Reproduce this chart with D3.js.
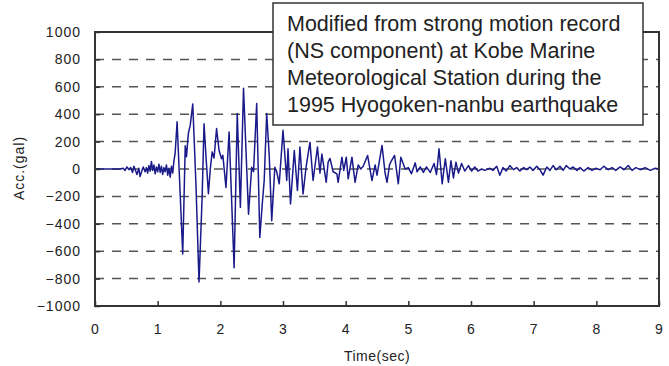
<!DOCTYPE html>
<html>
<head>
<meta charset="utf-8">
<script src="https://cdn.jsdelivr.net/npm/d3@7"></script>
<style>
  body { margin: 0; background: #fff; }
  svg { display: block; }
</style>
</head>
<body>
<div id="chart"></div>
<script>
// acceleration record (time in sec, acc in gal)
var timeSec = [0.00, 0.40, 0.45, 0.48, 0.51, 0.54, 0.57, 0.60, 0.62, 0.65, 0.67, 0.70, 0.72, 0.75, 0.77, 0.80,
  0.82, 0.84, 0.86, 0.88, 0.90, 0.92, 0.94, 0.96, 0.98, 1.00, 1.02, 1.04, 1.06, 1.08, 1.10, 1.12, 1.14, 1.16,
  1.18, 1.20, 1.22, 1.24, 1.26, 1.28, 1.31, 1.40, 1.44, 1.46, 1.49, 1.52, 1.56, 1.61, 1.66, 1.71, 1.74, 1.77,
  1.81, 1.84, 1.87, 1.90, 1.94, 1.98, 2.02, 2.04, 2.09, 2.14, 2.22, 2.27, 2.32, 2.37, 2.45, 2.50, 2.53, 2.58,
  2.63, 2.67, 2.70, 2.74, 2.78, 2.82, 2.87, 2.90, 2.94, 3.00, 3.06, 3.08, 3.12, 3.18, 3.23, 3.27, 3.32, 3.37,
  3.43, 3.48, 3.55, 3.59, 3.62, 3.69, 3.72, 3.75, 3.80, 3.86, 3.88, 3.94, 3.97, 4.01, 4.04, 4.10, 4.15, 4.20,
  4.24, 4.28, 4.35, 4.42, 4.47, 4.50, 4.58, 4.63, 4.66, 4.70, 4.73, 4.78, 4.84, 4.88, 4.95, 5.00, 5.05, 5.11,
  5.14, 5.19, 5.24, 5.29, 5.35, 5.41, 5.45, 5.49, 5.54, 5.59, 5.64, 5.68, 5.72, 5.76, 5.80, 5.85, 5.90, 5.96,
  6.01, 6.06, 6.11, 6.17, 6.22, 6.30, 6.35, 6.41, 6.46, 6.51, 6.56, 6.62, 6.68, 6.73, 6.78, 6.84, 6.89, 6.94,
  6.99, 7.05, 7.10, 7.15, 7.21, 7.26, 7.31, 7.36, 7.42, 7.47, 7.52, 7.58, 7.63, 7.69, 7.74, 7.80, 7.87, 7.93,
  7.99, 8.06, 8.12, 8.19, 8.25, 8.31, 8.38, 8.44, 8.51, 8.57, 8.63, 8.70, 8.78, 8.86, 8.94, 9.00];
var accGal = [0, 0, 5, -10, 15, -5, 10, -25, 20, -15, -40, 5, -55, -10, 15, -20,
  10, -30, 25, -15, 55, -10, 30, -35, 15, -20, 35, -25, 20, -40, 10, -20, 30, -45,
  5, -60, 20, -30, 60, 120, 345, -620, 170, 90, 260, 320, 475, -100, -825, -200, 330, 100,
  -180, 0, 125, 80, 295, 135, 75, 100, -135, 270, -720, 405, -280, 590, -330, 13, -20, 478,
  -500, -250, -85, 405, 100, -377, 13, -20, -108, 282, -84, 148, -255, 135, -157, 160, -182, 20,
  196, -84, 160, -30, 110, -97, 50, 77, -20, -35, -97, 86, -10, 86, -72, 86, -97, 30,
  0, 20, 99, -84, 30, -45, 172, -33, -97, 30, 60, 99, -108, 86, 0, 10, -35, 45,
  -20, 15, -25, 15, -25, 40, -40, 148, -108, 75, -97, 60, -65, 50, -30, 40, -15, 25,
  -15, 15, -15, 0, -10, 5, -10, 20, -45, 10, -15, 25, -5, 10, -15, 10, -5, 15,
  -10, 20, -5, -45, 15, -10, 25, -5, 20, -10, 25, 0, 15, -10, 10, -15, 10, -10,
  5, -5, 20, -5, 10, -10, 15, -5, 25, -10, 10, -5, 10, -10, 5, 0];
var xTicks = [0, 1, 2, 3, 4, 5, 6, 7, 8, 9];
var yTicks = [-1000, -800, -600, -400, -200, 0, 200, 400, 600, 800, 1000];
var noteLines = ["Modified from strong motion record", "(NS component) at Kobe Marine",
  "Meteorological Station during the", "1995 Hyogoken-nanbu earthquake"];

var W = 669, H = 366;
var Margin = {top: 32, right: 10, bottom: 60, left: 95};
var InnerWidth = W - Margin.left - Margin.right;   // 564
var InnerHeight = H - Margin.top - Margin.bottom;  // 274

var svg = d3.select("#chart").append("svg")
  .attr("width", W)
  .attr("height", H)
  .style("font-family", "'Liberation Sans', Arial, sans-serif");

var g = svg.append("g")
  .attr("transform", "translate(" + Margin.left + "," + Margin.top + ")");

var x = d3.scaleLinear().domain([0, 9]).range([0, InnerWidth]);
var y = d3.scaleLinear().domain([-1000, 1000]).range([InnerHeight, 0]);

// dashed grid lines
g.selectAll(".grid").data(yTicks.slice(1, -1)).enter().append("line")
  .attr("class", "grid")
  .attr("x1", 0).attr("x2", InnerWidth)
  .attr("y1", function(d) { return y(d); })
  .attr("y2", function(d) { return y(d); })
  .style("stroke", "#555")
  .style("stroke-width", 1.5)
  .style("stroke-dasharray", "9,8");

// trace
var pts = timeSec.map(function(t, i) { return [t, accGal[i]]; });
g.append("path")
  .datum(pts)
  .attr("d", d3.line().x(function(d) { return x(d[0]); }).y(function(d) { return y(d[1]); }))
  .style("fill", "none")
  .style("stroke", "#1a1a8a")
  .style("stroke-width", 1.5)
  .style("stroke-linejoin", "round");

// axes
var xAxis = g.append("g")
  .attr("transform", "translate(0," + InnerHeight + ")")
  .call(d3.axisBottom(x).tickValues(xTicks).tickSize(-5).tickPadding(18).tickFormat(d3.format("d")));
var yAxis = g.append("g")
  .call(d3.axisLeft(y).tickValues(yTicks).tickSize(-5).tickPadding(14).tickFormat(d3.format("d")));

[xAxis, yAxis].forEach(function(a) {
  a.select(".domain").remove();
  a.selectAll("line").style("stroke", "#333").style("stroke-width", 1.5);
  a.selectAll("text")
    .style("font-family", "'Liberation Sans', Arial, sans-serif")
    .style("font-size", "14px")
    .style("letter-spacing", "1px")
    .style("fill", "#222");
});

// frame
g.append("rect")
  .attr("width", InnerWidth).attr("height", InnerHeight)
  .style("fill", "none")
  .style("stroke", "#333")
  .style("stroke-width", 2);

// axis titles
svg.append("text")
  .attr("x", Margin.left + InnerWidth / 2)
  .attr("y", 361)
  .attr("text-anchor", "middle")
  .style("font-size", "14px")
  .style("letter-spacing", "0.5px")
  .style("fill", "#222")
  .text("Time(sec)");

svg.append("text")
  .attr("transform", "translate(24,168) rotate(-90)")
  .attr("text-anchor", "middle")
  .style("font-size", "14px")
  .style("letter-spacing", "1px")
  .style("fill", "#222")
  .text("Acc.(gal)");

// note box
var note = svg.append("g").attr("transform", "translate(273,3)");
note.append("rect")
  .attr("width", 370).attr("height", 122)
  .style("fill", "#fff")
  .style("stroke", "#333")
  .style("stroke-width", 1.5);
note.selectAll("text").data(noteLines).enter().append("text")
  .attr("x", 14)
  .attr("y", function(d, i) { return 27.5 + i * 27; })
  .style("font-size", "21.5px")
  .style("fill", "#222")
  .text(function(d) { return d; });
</script>
</body>
</html>
